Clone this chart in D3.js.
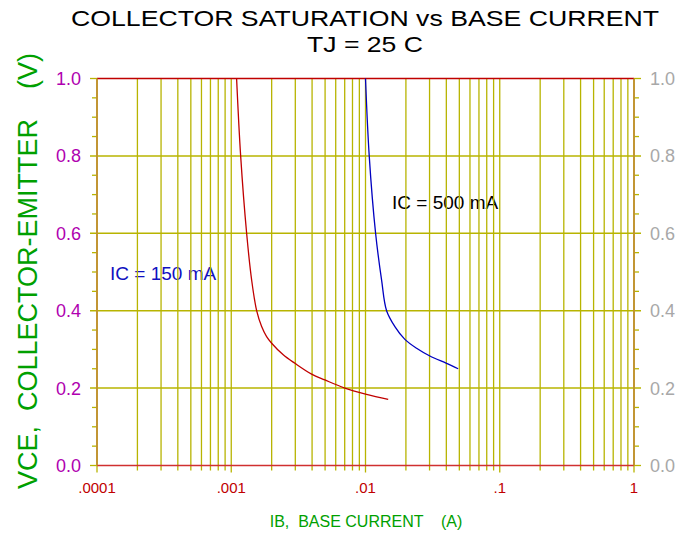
<!DOCTYPE html>
<html><head><meta charset="utf-8">
<script src="https://cdn.jsdelivr.net/npm/d3@7"></script>
<style>body{margin:0;background:#fff}svg{display:block}text{font-family:"Liberation Sans",Arial,sans-serif}</style>
</head><body>
<script>
const xTickValues = [0.0001, 0.001, 0.01, 0.1, 1];
const xTickLabels = [".0001", ".001", ".01", ".1", "1"];
const yTickValues = [0.0, 0.2, 0.4, 0.6, 0.8, 1.0];
const yTickLabels = ["0.0", "0.2", "0.4", "0.6", "0.8", "1.0"];
const ib150 = [0.001096, 0.001175, 0.001302, 0.001419, 0.001546, 0.001684, 0.001834, 0.002, 0.002439, 0.00298, 0.003969, 0.004985, 0.007023, 0.01019, 0.01476];
const vce150 = [1.0, 0.8, 0.6, 0.479, 0.400, 0.359, 0.333, 0.316, 0.286, 0.264, 0.236, 0.221, 0.200, 0.184, 0.171];
const ib500 = [0.01, 0.01066, 0.01189, 0.01318, 0.01436, 0.01655, 0.01965, 0.02402, 0.03017, 0.04018, 0.04899];
const vce500 = [1.0, 0.8, 0.6, 0.479, 0.400, 0.359, 0.326, 0.303, 0.283, 0.264, 0.250];
const seriesNames = ["IC = 150 mA", "IC = 500 mA"];

const W = 678, H = 533;
const L = 97, R = 634, T = 78.5, B = 465.5;
const svg = d3.select("body").append("svg").attr("width", W).attr("height", H);
const x = d3.scaleLog().domain([0.0001, 1]).range([L, R]);
const y = d3.scaleLinear().domain([0, 1]).range([B, T]);
const gridCol = "#b8b400";

// title
svg.append("text").attr("x", 365).attr("y", 26).attr("text-anchor", "middle")
  .attr("font-size", 22).attr("textLength", 588).attr("lengthAdjust", "spacingAndGlyphs")
  .attr("fill", "#000").text("COLLECTOR SATURATION vs BASE CURRENT");
svg.append("text").attr("x", 365).attr("y", 52).attr("text-anchor", "middle")
  .attr("font-size", 22).attr("textLength", 116).attr("lengthAdjust", "spacingAndGlyphs")
  .attr("fill", "#000").text("TJ = 25 C");

// labels (under grid)
svg.append("text").attr("x", 392).attr("y", 209).attr("font-size", 19).attr("fill", "#000").text(seriesNames[1]);
svg.append("text").attr("x", 110).attr("y", 280).attr("font-size", 19).attr("fill", "#1010c0").text(seriesNames[0]);

// vertical grid
const minorX = [];
for (let e = -4; e < 0; e++) for (let m = 1; m <= 9; m++) minorX.push(m * Math.pow(10, e));
minorX.push(1);
svg.append("g").selectAll("line").data(minorX).join("line")
  .attr("x1", d => x(d)).attr("x2", d => x(d))
  .attr("y1", T).attr("y2", d => xTickValues.some(v => Math.abs(v - d) / d < 1e-6) ? B + 7 : B + 5)
  .attr("stroke", gridCol).attr("stroke-width", 1.3);

// horizontal grid
svg.append("g").selectAll("line").data(yTickValues.slice(1, -1)).join("line")
  .attr("x1", L - 7).attr("x2", R + 7).attr("y1", d => y(d)).attr("y2", d => y(d))
  .attr("stroke", gridCol).attr("stroke-width", 1.5);

// minor y ticks
const minorY = d3.range(0.05, 1.0, 0.05).filter(v => Math.abs(v * 5 - Math.round(v * 5)) > 1e-6);
svg.append("g").selectAll("line").data(minorY).join("line")
  .attr("x1", L - 5).attr("x2", L).attr("y1", d => y(d)).attr("y2", d => y(d))
  .attr("stroke", gridCol).attr("stroke-width", 1.3);
svg.append("g").selectAll("line").data(minorY).join("line")
  .attr("x1", R).attr("x2", R + 5).attr("y1", d => y(d)).attr("y2", d => y(d))
  .attr("stroke", gridCol).attr("stroke-width", 1.3);
svg.append("g").selectAll("line").data([0, 1]).join("line")
  .attr("x1", L - 7).attr("x2", L).attr("y1", d => y(d)).attr("y2", d => y(d))
  .attr("stroke", gridCol).attr("stroke-width", 1.3);
svg.append("g").selectAll("line").data([0, 1]).join("line")
  .attr("x1", R).attr("x2", R + 7).attr("y1", d => y(d)).attr("y2", d => y(d))
  .attr("stroke", gridCol).attr("stroke-width", 1.3);

// frame
svg.append("line").attr("x1", L).attr("x2", R).attr("y1", T).attr("y2", T).attr("stroke", "#c00000").attr("stroke-width", 1.3);
svg.append("line").attr("x1", L).attr("x2", R).attr("y1", B).attr("y2", B).attr("stroke", "#d03030").attr("stroke-width", 1.5);
svg.append("line").attr("x1", L).attr("x2", L).attr("y1", T).attr("y2", B).attr("stroke", "#c09030").attr("stroke-width", 1.8);
svg.append("line").attr("x1", R).attr("x2", R).attr("y1", T).attr("y2", B).attr("stroke", "#c09030").attr("stroke-width", 1.8);

// curves
const lineGen = d3.line().x(d => x(d[0])).y(d => y(d[1])).curve(d3.curveCatmullRom);
svg.append("path").datum(ib150.map((v, i) => [v, vce150[i]])).attr("d", lineGen)
  .attr("fill", "none").attr("stroke", "#c00000").attr("stroke-width", 1.3);
svg.append("path").datum(ib500.map((v, i) => [v, vce500[i]])).attr("d", lineGen)
  .attr("fill", "none").attr("stroke", "#0000c0").attr("stroke-width", 1.3);

// y tick labels
svg.append("g").selectAll("text").data(yTickValues).join("text")
  .attr("x", 81).attr("y", d => y(d) + 6.5).attr("text-anchor", "end")
  .attr("font-size", 18).attr("fill", "#b000b0").text((d, i) => yTickLabels[i]);
svg.append("g").selectAll("text").data(yTickValues).join("text")
  .attr("x", 650).attr("y", d => y(d) + 6.5).attr("text-anchor", "start")
  .attr("font-size", 18).attr("fill", "#a8a8a8").text((d, i) => yTickLabels[i]);

// x tick labels
svg.append("g").selectAll("text").data(xTickValues).join("text")
  .attr("x", d => x(d)).attr("y", 493).attr("text-anchor", "middle")
  .attr("font-size", 15).attr("fill", "#c00000").text((d, i) => xTickLabels[i]);

// axis titles
svg.append("text").attr("x", 366).attr("y", 527).attr("text-anchor", "middle")
  .attr("font-size", 16).attr("fill", "#00a000").style("white-space", "pre")
  .text("IB,  BASE CURRENT    (A)");
svg.append("text").attr("transform", "translate(37,271) rotate(-90)").attr("text-anchor", "middle")
  .attr("font-size", 27).attr("fill", "#00a000").style("white-space", "pre")
  .text("VCE,  COLLECTOR-EMITTER    (V)");
</script>
</body></html>
